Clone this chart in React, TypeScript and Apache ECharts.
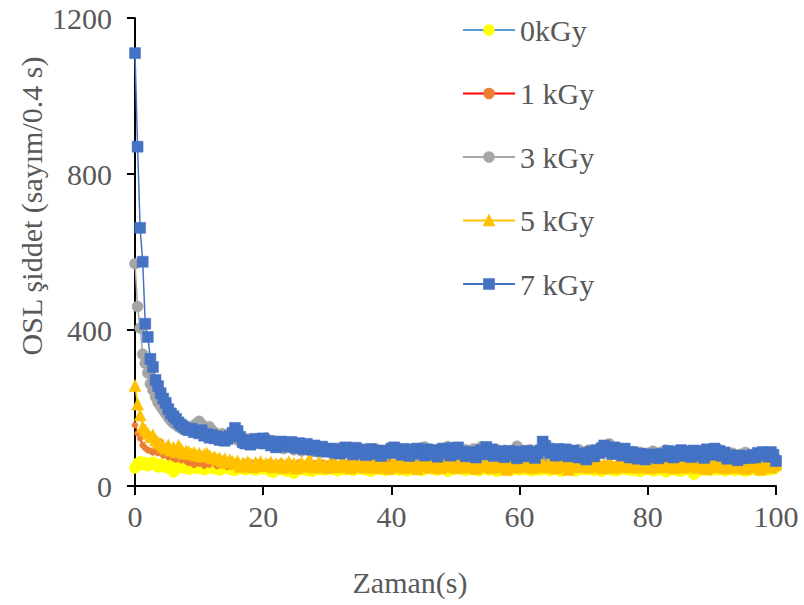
import { useEffect, useRef } from "react";
import * as echarts from "echarts";

// OSL decay curves, one reading every 0.4 s from 0 to 100 s
const STEP = 0.4;
const SERIES_NAMES = ["0kGy", "1 kGy", "3 kGy", "5 kGy", "7 kGy"];

const k0 = [
  46, 58, 62, 55, 60, 52, 57, 61, 54, 49, 56,
  51, 47, 55, 50, 36, 53, 48, 52, 46, 50,
  43, 49, 53, 45, 51, 47, 42, 50, 46, 52,
  44, 48, 41, 50, 46, 53, 43, 47, 40, 49,
  45, 51, 42, 48, 44, 50, 41, 47, 52, 43,
  48, 45, 37, 35, 46, 42, 49, 44, 38, 47,
  41, 33, 45, 50, 43, 48, 40, 46, 38, 44, 49, 42, 47, 41, 45,
  50, 43, 47, 39, 45, 51, 42, 48, 44, 40, 46, 52, 43, 49, 41, 45, 38, 47, 44, 50, 42, 46, 40, 48, 43,
  45, 51, 41, 47, 43, 39, 48, 44, 50, 42, 46, 40, 49, 45, 52, 43, 47, 41, 44, 50, 46, 38, 48, 42, 45,
  49, 43, 47, 40, 46, 51, 42, 45, 39, 48, 44, 50, 41, 46, 43, 38, 47, 42, 49, 45, 40, 46, 43, 48, 41,
  45, 50, 42, 47, 39, 44, 48, 41, 46, 43, 49, 40, 45, 47, 42, 38, 46, 44, 50, 41, 45, 39, 48, 43, 46,
  42, 47, 44, 40, 49, 45, 38, 46, 43, 48, 41, 45, 39, 47, 44, 50, 42, 46, 40, 43, 48, 37, 45, 42, 47,
  44, 39, 46, 41, 48, 43, 36, 45, 42, 47, 40, 44, 38, 43, 46, 41, 48, 30, 44, 39, 45, 42, 47, 40, 44,
  46, 41, 48, 43, 39, 45, 42, 47, 40, 44, 49, 43, 38, 46, 41, 45, 48, 42, 39, 47, 44, 41, 46, 43, 48,
];

const k1 = [
  156, 135, 122, 105, 97, 92, 90, 86, 93, 84, 114,
  78, 86, 74, 79, 71, 68, 75, 66, 70, 63,
  59, 66, 54, 61, 57, 64, 52, 60, 55, 62,
  57, 51, 59, 54, 63, 49, 56, 60, 53, 58,
  50, 57, 62, 48, 55, 59, 52, 61, 47, 56,
  53, 60, 46, 58, 51, 55, 62, 49, 57, 52,
  59, 45, 54, 61, 50, 56, 48, 63, 52, 58, 47, 55, 60, 51, 57,
  53, 62, 49, 56, 45, 58, 52, 60, 48, 55, 63, 50, 57, 46, 54, 59, 51, 61, 47, 56, 53, 49, 58, 62, 52,
  55, 48, 60, 53, 57, 46, 62, 51, 56, 49, 58, 54, 61, 47, 55, 50, 59, 52, 63, 48, 56, 51, 60, 45, 57,
  53, 58, 49, 61, 97, 44, 55, 52, 59, 47, 56, 62, 50, 54, 58, 46, 53, 60, 49, 57, 51, 55, 48, 63, 52,
  56, 50, 59, 47, 54, 61, 53, 48, 57, 66, 51, 55, 49, 58, 52, 62, 47, 56, 53, 60, 50, 57, 46, 54, 59,
  52, 48, 56, 61, 50, 55, 47, 58, 53, 60, 49, 54, 57, 51, 62, 48, 55, 52, 59, 46, 56, 50, 58, 53, 49,
  57, 51, 60, 47, 55, 52, 58, 48, 62, 53, 50, 56, 45, 59, 54, 51, 57, 49, 61, 52, 55, 47, 58, 50, 56,
  53, 60, 48, 55, 51, 57, 46, 59, 54, 50, 62, 52, 56, 48, 58, 53, 49, 57, 51, 60, 55, 47, 58, 52, 56,
];

const k3 = [
  570, 460, 405, 338, 315, 290, 262, 246, 229, 214, 205,
  195, 186, 176, 168, 161, 157, 152, 148, 145, 150,
  143, 147, 155, 160, 166, 158, 150, 146, 152, 143,
  137, 131, 128, 134, 126, 130, 124, 121, 127, 118,
  124, 119, 114, 121, 116, 111, 118, 113, 109, 115,
  123, 118, 110, 116, 105, 101, 108, 96, 104, 99,
  106, 93, 102, 97, 90, 100, 94, 103, 88, 97, 92, 86, 99, 91, 95,
  88, 93, 84, 97, 90, 82, 94, 87, 99, 85, 91, 80, 96, 88, 83, 92, 86, 79, 95, 89, 84, 90, 81, 93, 87,
  91, 84, 96, 79, 88, 82, 93, 86, 77, 90, 84, 98, 100, 87, 81, 92, 78, 89, 85, 95, 80, 101, 88, 83, 76,
  90, 85, 79, 93, 87, 81, 95, 78, 86, 100, 83, 90, 76, 88, 82, 94, 79, 87, 91, 80, 85, 77, 92, 102, 86,
  81, 89, 75, 93, 84, 88, 79, 95, 86, 80, 91, 74, 87, 83, 92, 78, 88, 82, 76, 90, 85, 79, 93, 81, 87,
  80, 92, 85, 77, 89, 95, 90, 86, 98, 108, 81, 88, 96, 84, 79, 90, 83, 76, 88, 81, 74, 86, 79, 72, 84,
  78, 89, 83, 75, 86, 80, 92, 77, 84, 71, 88, 82, 76, 90, 85, 79, 87, 74, 83, 78, 91, 72, 85, 80, 76,
  88, 81, 93, 74, 85, 79, 72, 84, 77, 69, 81, 75, 86, 70, 79, 73, 82, 76, 71, 83, 78, 85, 74, 80, 70,
];

const k5 = [
  258, 210, 182, 152, 144, 135, 126, 131, 118, 112, 108,
  101, 97, 105, 92, 99, 88, 104, 95, 84, 90,
  88, 82, 86, 79, 84, 76, 81, 84, 78, 72,
  75, 68, 72, 64, 70, 60, 67, 63, 57, 64,
  50, 59, 53, 62, 57, 49, 60, 54, 63, 52,
  58, 55, 61, 49, 57, 53, 59, 47, 56, 62,
  51, 58, 46, 55, 60, 50, 57, 69, 53, 48, 56, 61, 50, 54, 47,
  58, 52, 60, 49, 55, 62, 51, 57, 46, 63, 53, 50, 58, 55, 48, 61, 52, 56, 47, 59, 54, 50, 57, 45, 53,
  60, 49, 55, 58, 47, 62, 53, 50, 57, 44, 56, 61, 51, 54, 48, 59, 52, 57, 46, 55, 60, 50, 53, 58, 47,
  55, 51, 59, 48, 56, 53, 61, 45, 54, 57, 50, 58, 52, 47, 60, 55, 49, 57, 53, 42, 58, 51, 56, 48, 54,
  59, 50, 55, 62, 47, 53, 58, 51, 57, 49, 54, 60, 52, 46, 56, 61, 50, 55, 42, 58, 53, 49, 57, 51, 55,
  60, 48, 54, 57, 52, 59, 46, 55, 50, 58, 53, 47, 56, 61, 51, 54, 49, 57, 52, 60, 48, 55, 51, 58, 53,
  47, 56, 52, 59, 49, 55, 61, 50, 54, 46, 57, 52, 58, 48, 55, 51, 60, 53, 47, 56, 50, 57, 44, 54, 52,
  58, 49, 55, 51, 46, 57, 53, 60, 48, 54, 50, 56, 45, 52, 58, 49, 55, 51, 43, 57, 50, 54, 48, 53, 56,
];

const k7 = [
  1110, 870, 662, 575, 416, 382, 326, 305, 272, 256, 238,
  224, 213, 197, 186, 179, 172, 163, 157, 152, 146,
  143, 147, 138, 141, 135, 143, 129, 133, 124, 131,
  122, 127, 118, 125, 116, 121, 128, 136, 149, 141,
  126, 112, 109, 117, 106, 113, 121, 110, 118, 122,
  109, 115, 104, 112, 99, 107, 114, 103, 110, 101,
  113, 106, 98, 110, 102, 95, 108, 100, 93, 104, 97, 90, 101, 94, 88,
  96, 89, 85, 94, 83, 92, 99, 87, 94, 81, 98, 90, 84, 93, 79, 88, 95, 82, 90, 86, 77, 91, 84, 89, 96,
  99, 85, 92, 80, 95, 88, 77, 93, 86, 96, 83, 90, 78, 94, 87, 81, 92, 75, 89, 96, 84, 91, 78, 97, 86,
  99, 82, 88, 76, 84, 79, 87, 73, 85, 92, 81, 100, 88, 94, 77, 86, 80, 89, 74, 84, 90, 78, 85, 71, 88,
  83, 76, 90, 79, 86, 72, 84, 91, 114, 103, 96, 85, 92, 78, 95, 88, 80, 94, 76, 86, 91, 82, 73, 84, 79,
  68, 83, 88, 76, 92, 84, 97, 104, 89, 95, 82, 99, 86, 92, 78, 96, 84, 73, 87, 80, 70, 83, 76, 68, 81,
  74, 80, 79, 71, 82, 78, 76, 90, 84, 73, 87, 80, 92, 77, 85, 89, 74, 91, 83, 78, 88, 72, 94, 86, 80,
  96, 84, 90, 77, 86, 70, 79, 74, 76, 66, 78, 71, 74, 76, 72, 80, 73, 85, 79, 87, 83, 75, 87, 80, 64,
];

const FONT = "'Liberation Serif', 'Times New Roman', serif";
const TEXT_GREY = "#595959";
const FONT_SIZE = 30;

const withTime = (vals: number[]) =>
  vals.map((v, i) => [Math.round(i * STEP * 10) / 10, v]);

function lineSeries(
  name: string,
  vals: number[],
  lineColor: string,
  markColor: string,
  symbol: string,
  symbolSize: number,
  z: number
) {
  return {
    name,
    type: "line",
    data: withTime(vals),
    symbol,
    symbolSize,
    showSymbol: true,
    z,
    lineStyle: { color: lineColor, width: 1.5 },
    itemStyle: { color: markColor, borderColor: markColor, borderWidth: 0.5 },
    emphasis: { disabled: true },
  };
}

export default function App() {
  const ref = useRef<HTMLDivElement>(null);

  useEffect(() => {
    const chart = echarts.init(ref.current!, null, { renderer: "svg" });
    chart.setOption({
      animation: false,
      backgroundColor: "#ffffff",
      grid: { left: 135, right: 28, top: 18, bottom: 119, containLabel: false },
      xAxis: {
        type: "value",
        min: 0,
        max: 100,
        interval: 20,
        axisLine: { show: true, onZero: false, lineStyle: { color: "#000", width: 2 } },
        axisTick: { show: true, length: 9, lineStyle: { color: "#000", width: 2 } },
        splitLine: { show: false },
        axisLabel: { fontFamily: FONT, fontSize: FONT_SIZE, color: TEXT_GREY, margin: 15 },
      },
      yAxis: {
        type: "value",
        min: 0,
        max: 1200,
        interval: 400,
        axisLine: { show: true, lineStyle: { color: "#000", width: 2 } },
        axisTick: { show: true, length: 8, lineStyle: { color: "#000", width: 2 } },
        splitLine: { show: false },
        axisLabel: {
          fontFamily: FONT,
          fontSize: FONT_SIZE,
          color: TEXT_GREY,
          margin: 23,
          formatter: (v: number) => String(v),
        },
      },
      legend: {
        orient: "vertical",
        left: 462,
        top: 14,
        padding: 0,
        itemWidth: 52,
        itemHeight: 12,
        itemGap: 31.5,
        selectedMode: false,
        data: SERIES_NAMES,
        textStyle: { fontFamily: FONT, fontSize: FONT_SIZE, color: TEXT_GREY, lineHeight: 32 },
      },
      graphic: [
        {
          type: "text",
          x: 31,
          y: 206,
          rotation: Math.PI / 2,
          style: {
            text: "OSL şiddet (sayım/0.4 s)",
            fontFamily: FONT,
            fontSize: FONT_SIZE,
            fill: TEXT_GREY,
            textAlign: "center",
            textVerticalAlign: "middle",
          },
        },
        {
          type: "text",
          x: 410,
          y: 582,
          style: {
            text: "Zaman(s)",
            fontFamily: FONT,
            fontSize: FONT_SIZE,
            fill: TEXT_GREY,
            textAlign: "center",
            textVerticalAlign: "middle",
          },
        },
      ],
      series: [
        lineSeries(SERIES_NAMES[0], k0, "#5B9BD5", "#FFFF00", "circle", 11, 2),
        lineSeries(SERIES_NAMES[1], k1, "#FF0000", "#ED7D31", "circle", 6, 3),
        lineSeries(SERIES_NAMES[2], k3, "#A5A5A5", "#A5A5A5", "circle", 11, 4),
        lineSeries(SERIES_NAMES[3], k5, "#FFC000", "#FFC000", "triangle", 12, 5),
        lineSeries(SERIES_NAMES[4], k7, "#4472C4", "#4472C4", "rect", 11, 6),
      ],
    });
    return () => chart.dispose();
  }, []);

  return (
    <div
      ref={ref}
      style={{ position: "fixed", left: 0, top: 0, width: 804, height: 605, background: "#fff" }}
    />
  );
}
